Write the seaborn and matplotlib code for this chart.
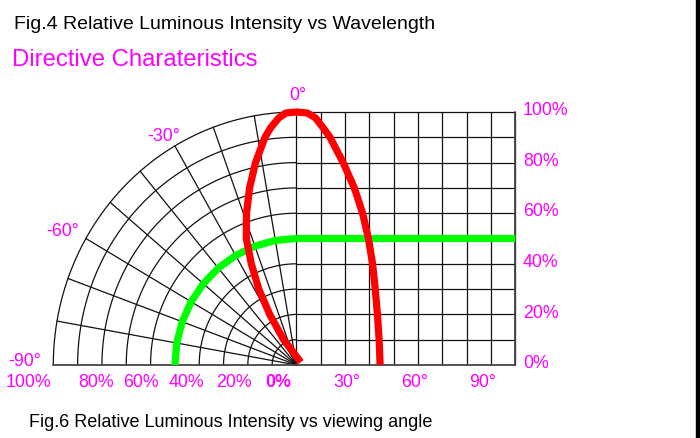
import numpy as np
import pandas as pd
import seaborn as sns
import matplotlib.pyplot as plt
from matplotlib.patches import Rectangle

# red curve, polar half (angle in deg, relative intensity in %)
left_angle = [0, -2.5, -4.3, -6.5, -8.2, -11.9, -15.4, -18.9, -22.4,
              -24.9, -27.3, -28.8, -27.9, 58.6]
left_rel = [100, 99.7, 97.9, 94.3, 90.9, 81.7, 72.6, 63.4, 54.1,
            44.1, 33.8, 22.8, 11.3, 2.1]
# red curve, cartesian half
right_angle = [0, 4.5, 7.9, 11.0, 13.8, 19.2, 23.8, 27.2, 29.6,
               31.3, 32.4, 33.3, 34.0, 34.4]
right_rel = [100, 99.6, 97.6, 93.7, 90, 80, 70, 60, 50,
             40, 30, 20, 10, 0]
# green curve
green_left_angle = [-90, -80, -70, -60, -50, -40, -30, -20, -10, 0]
green_left_rel = [50, 50, 50, 50, 50, 50, 50, 50, 50, 50]
green_right_angle = [0, 90]
green_right_rel = [50, 50]

bottom_labels = ['100%', '80%', '60%', '40%', '20%', '0%', '30°', '60°', '90°']
right_ticks = [0, 20, 40, 60, 80, 100]
angle_labels = ['0°', '-30°', '-60°', '-90°']

sns.set_style('white')
plt.rcParams['font.family'] = ['Liberation Sans', 'DejaVu Sans']
MAG = '#ff00ff'
GRID = '#111111'

fig = plt.figure(figsize=(7, 4.39), dpi=100)
ax = fig.add_axes([53.3 / 700, 73 / 439, 462 / 700, 253 / 439])


def polar_xy(angle, rel):
    a = np.radians(np.asarray(angle, dtype=float))
    r = np.asarray(rel, dtype=float)
    return r * np.sin(a), r * np.cos(a)


# polar grid
t = np.linspace(-90, 0, 181)
for r in range(10, 101, 10):
    gx, gy = polar_xy(t, np.full_like(t, r))
    ax.plot(gx, gy, color=GRID, lw=0.9, clip_on=False, zorder=1)
for a in range(-80, 0, 10):
    sx, sy = polar_xy([a, a], [0, 100])
    ax.plot(sx, sy, color=GRID, lw=0.9, clip_on=False, zorder=1)
# rectangular grid
for x in range(0, 91, 10):
    ax.plot([x, x], [0, 100], color=GRID, lw=0.9, clip_on=False, zorder=1)
for y in range(10, 101, 10):
    ax.plot([0, 90], [y, y], color=GRID, lw=0.9, clip_on=False, zorder=1)
ax.plot([-100, 90], [0, 0], color='#444444', lw=1.3, clip_on=False, zorder=1)
ax.plot([90, 90], [0, 100], color='#444444', lw=1.3, clip_on=False, zorder=1)

# green curve
gx, gy = polar_xy(green_left_angle, green_left_rel)
green = pd.DataFrame({'x': np.r_[gx, green_right_angle],
                      'y': np.r_[gy, green_right_rel]})
sns.lineplot(data=green, x='x', y='y', sort=False, estimator=None, ax=ax,
             color='#00ff00', lw=5.2, solid_joinstyle='round',
             solid_capstyle='butt', clip_on=False, zorder=3)

# red curve
rx, ry = polar_xy(left_angle, left_rel)
red = pd.DataFrame({'x': np.r_[rx[::-1], right_angle[1:]],
                    'y': np.r_[ry[::-1], right_rel[1:]]})
sns.lineplot(data=red, x='x', y='y', sort=False, estimator=None, ax=ax,
             color='#ff0000', lw=5.2, solid_joinstyle='round',
             solid_capstyle='butt', clip_on=False, zorder=4)

ax.set_xlim(-100, 90)
ax.set_ylim(0, 100)
ax.axis('off')

# labels
bottom_x = [-110.1, -82.5, -64, -45.4, -25.7, -7.6, 20.8, 48.7, 76.7]
for lab, x in zip(bottom_labels, bottom_x):
    ax.text(x, -8.2, lab, color=MAG, fontsize=12.8, ha='center', va='baseline',
            fontweight='bold' if lab == '0%' else 'normal')
for v in right_ticks:
    ax.text(93.1, v - 0.9, f'{v}%', color=MAG, fontsize=12.8, ha='left', va='baseline')
angle_pos = [(0.6, 105.1), (-54.8, 89.1), (-96.2, 51.4), (-111.7, 0.1)]
for lab, (x, y) in zip(angle_labels, angle_pos):
    ax.text(x, y, lab, color=MAG, fontsize=12.8, ha='center', va='baseline')

fig.text(14 / 700, 1 - 29.3 / 439, 'Fig.4 Relative Luminous Intensity vs Wavelength',
         fontsize=14, color='black', va='baseline')
fig.text(12 / 700, 1 - 65.7 / 439, 'Directive Charateristics',
         fontsize=17.2, color=MAG, va='baseline')
fig.text(29.3 / 700, 1 - 427.3 / 439, 'Fig.6 Relative Luminous Intensity vs viewing angle',
         fontsize=13, color='black', va='baseline')

fig.patches.append(Rectangle((695.5 / 700, 0), 4.5 / 700, 1, transform=fig.transFigure,
                             color='black', zorder=5))

fig.savefig('out.png', dpi=100)
